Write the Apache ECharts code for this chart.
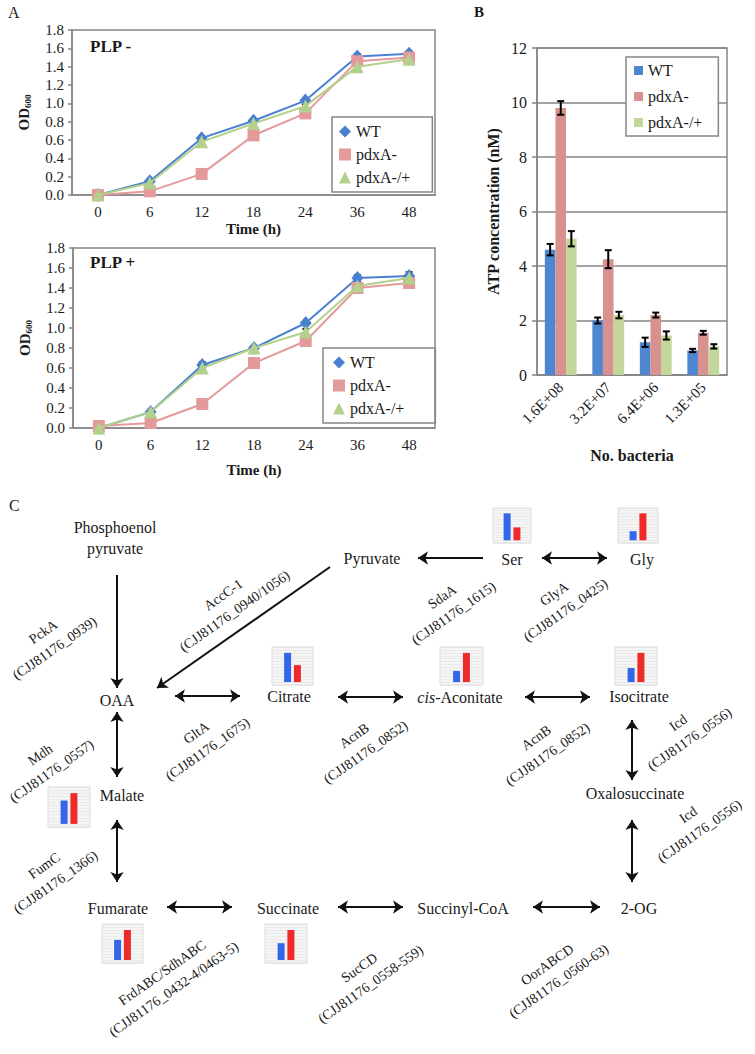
<!DOCTYPE html>
<html><head><meta charset="utf-8">
<script src="https://cdn.jsdelivr.net/npm/echarts@6/dist/echarts.min.js"></script>
<style>html,body{margin:0;padding:0;background:#fff}#c{width:755px;height:1054px}</style>
</head><body><div id="c"></div>
<script>
// ---------- Panel A data ----------
const timeLabels = ['0','6','12','18','24','36','48'];
const strainNames = ['WT','pdxA-','pdxA-/+'];
const plpMinusWT   = [0.00,0.15,0.62,0.81,1.03,1.51,1.54];
const plpMinusPdxA = [0.00,0.04,0.23,0.65,0.89,1.46,1.50];
const plpMinusComp = [0.00,0.13,0.58,0.78,0.97,1.40,1.48];
const plpMinusErrWT   = [0,0.01,0.02,0.02,0.02,0.03,0.03];
const plpMinusErrPdxA = [0,0.01,0.02,0.02,0.02,0.04,0.06];
const plpMinusErrComp = [0,0.01,0.02,0.02,0.02,0.02,0.05];
const plpPlusWT   = [0.00,0.16,0.63,0.80,1.05,1.50,1.52];
const plpPlusPdxA = [0.02,0.05,0.24,0.65,0.87,1.40,1.45];
const plpPlusComp = [0.00,0.16,0.60,0.80,0.96,1.42,1.50];
const plpPlusErrWT   = [0,0.01,0.03,0.02,0.02,0.03,0.04];
const plpPlusErrPdxA = [0,0.01,0.02,0.02,0.05,0.05,0.03];
const plpPlusErrComp = [0,0.01,0.02,0.02,0.03,0.03,0.03];
// ---------- Panel B data ----------
const bacteriaLabels = ['1.6E+08','3.2E+07','6.4E+06','1.3E+05'];
const atpWT   = [4.6,2.0,1.2,0.9];
const atpPdxA = [9.8,4.25,2.2,1.55];
const atpComp = [5.0,2.2,1.45,1.05];
const atpErrWT   = [0.21,0.11,0.17,0.06];
const atpErrPdxA = [0.25,0.33,0.09,0.07];
const atpErrComp = [0.28,0.12,0.15,0.08];
// ---------- Panel C data ----------
const metabolites = ['Phosphoenol\npyruvate','Pyruvate','Ser','Gly','OAA','Citrate','{i|cis}-Aconitate','Isocitrate','Malate','Oxalosuccinate','Fumarate','Succinate','Succinyl-CoA','2-OG'];
const enzymes = ['PckA','AccC-1','GltA','AcnB','AcnB','SdaA','GlyA','Icd','Icd','Mdh','FumC','FrdABC/SdhABC','SucCD','OorABCD'];
const geneIds = ['(CJJ81176_0939)','(CJJ81176_0940/1056)','(CJJ81176_1675)','(CJJ81176_0852)','(CJJ81176_0852)','(CJJ81176_1615)','(CJJ81176_0425)','(CJJ81176_0556)','(CJJ81176_0556)','(CJJ81176_0557)','(CJJ81176_1366)','(CJJ81176_0432-4/0463-5)','(CJJ81176_0558-559)','(CJJ81176_0560-63)'];
// reactions: [from, to, reversible]
const reactions = [
  ['Phosphoenol\npyruvate','OAA',false],['Pyruvate','OAA',false],['Ser','Pyruvate',false],
  ['Ser','Gly',true],['OAA','Citrate',true],['Citrate','cis-Aconitate',true],['cis-Aconitate','Isocitrate',true],
  ['OAA','Malate',true],['Malate','Fumarate',true],['Fumarate','Succinate',true],['Succinate','Succinyl-CoA',true],
  ['Succinyl-CoA','2-OG',true],['Isocitrate','Oxalosuccinate',true],['Oxalosuccinate','2-OG',true]
];
const miniMetabolites = ['Ser','Gly','Citrate','cis-Aconitate','Isocitrate','Malate','Fumarate','Succinate'];
const miniWT   = [1.00,0.34,1.00,0.38,0.48,0.76,0.67,0.56];
const miniPdxA = [0.48,1.00,0.58,1.00,1.00,1.00,1.00,1.00];

// ---------- layout (diagram coordinate space) ----------
const metaboliteLayout = [[115,538],[372,558],[512,559],[642,559],[117,700],[289,696],[460,697],[639,696],[122,795],[635,793],[118,908],[288,908],[463,908],[639,908]];
const reactionLayout = [
  [[117,575],[117,688]],[[330,567],[157,688]],[[483,558],[418,558]],
  [[542,558],[607,558]],[[175,696],[240,696]],[[338,697],[403,697]],[[525,697],[590,697]],
  [[117,712],[117,777]],[[117,820],[117,882]],[[167,907],[232,907]],[[338,907],[403,907]],
  [[533,907],[600,907]],[[632,720],[632,780]],[[632,820],[632,882]]
];
const enzymeLayout = [[49,640],[229,603],[202,741],[360,744],[542,746],[448,605],[560,602],[684,731],[694,823],[46,763],[50,874],[168,981],[365,976],[553,973]];
const miniLayout = [[493,508,38,35],[618,508,40,35],[272,647,41,38],[440,647,43,38],[615,647,42,38],[48,787,42,40],[102,924,41,39],[265,924,42,39]];

const FONT = 'Liberation Serif';
const AX = '#868686';
const L_COL = ['#4A80D0','#E4999B','#B3D08C'];
const B_COL = ['#4F86D0','#D9918F','#C3D79B'];
const TXT = '#1a1a1a';

const grids = [], xAxes = [], yAxes = [], series = [], legends = [];

function errorSeries(gi, vals, errs, offsetIdx, nBars, gap) {
  return {
    type:'custom', xAxisIndex:gi, yAxisIndex:gi, z:1, silent:true,
    data: vals.map((v,i)=>[i,v,errs[i]]),
    renderItem:(p,api)=>{
      const i=api.value(0), v=api.value(1), e=api.value(2);
      if(!e) return null;
      let dx = 0;
      if (nBars) { const band = api.size([1,0])[0]; const bw = band*(1-gap)/nBars; dx = (offsetIdx-(nBars-1)/2)*bw; }
      const t=api.coord([i,v+e]), b=api.coord([i,v-e]);
      const x=t[0]+dx, w=3.5;
      const st={stroke:'#000',lineWidth:nBars?2:1.5};
      return {type:'group',children:[
        {type:'line',shape:{x1:x,y1:t[1],x2:x,y2:b[1]},style:st},
        {type:'line',shape:{x1:x-w,y1:t[1],x2:x+w,y2:t[1]},style:st},
        {type:'line',shape:{x1:x-w,y1:b[1],x2:x+w,y2:b[1]},style:st}]};
    }
  };
}

function lineChart(gi, box, data, errs, nameGap, legendBox) {
  grids.push({left:box[0],top:box[1],width:box[2],height:box[3],show:true,borderColor:AX,borderWidth:1.5,backgroundColor:'transparent'});
  xAxes.push({gridIndex:gi,type:'category',data:timeLabels,boundaryGap:true,
    axisLine:{lineStyle:{color:AX,width:1.5}},axisTick:{length:5,lineStyle:{color:AX,width:1.5}},
    axisLabel:{fontFamily:FONT,fontSize:15,color:TXT,margin:9},
    name:'Time (h)',nameLocation:'middle',nameGap:nameGap,
    nameTextStyle:{fontFamily:FONT,fontSize:15,fontWeight:'bold',color:TXT}});
  yAxes.push({gridIndex:gi,type:'value',min:0,max:1.8,interval:0.2,
    axisLine:{show:true,lineStyle:{color:AX,width:1.5}},axisTick:{show:true,length:4,lineStyle:{color:AX,width:1.5}},
    splitLine:{show:false},
    axisLabel:{fontFamily:FONT,fontSize:15,color:TXT,margin:8,formatter:v=>v.toFixed(1)},
    name:'OD{s|600}',nameLocation:'middle',nameGap:40,nameRotate:90,
    nameTextStyle:{fontFamily:FONT,fontSize:15,fontWeight:'bold',color:TXT,
      rich:{s:{fontFamily:FONT,fontSize:9,fontWeight:'bold',color:TXT,verticalAlign:'bottom',padding:[7,0,0,0]}}}});
  const symbols = ['diamond','rect','triangle'];
  const sizes = [[12,14],12,13];
  for (let k=0;k<3;k++){
    series.push(errorSeries(gi, data[k], errs[k]));
    series.push({type:'line',name:strainNames[k],xAxisIndex:gi,yAxisIndex:gi,data:data[k],z:3+k,
      symbol:symbols[k],symbolSize:sizes[k],showAllSymbol:true,
      itemStyle:{color:L_COL[k],opacity:1},lineStyle:{color:L_COL[k],width:2}});
  }
  legends.push({orient:'vertical',left:legendBox[0],top:legendBox[1],selectedMode:false,
    padding:legendBox[2],itemGap:4,itemWidth:12,itemHeight:12,
    borderColor:AX,borderWidth:1.5,
    textStyle:{fontFamily:FONT,fontSize:16,color:TXT,lineHeight:19},
    data:strainNames.map((n,k)=>({name:n,icon:symbols[k],itemStyle:{color:L_COL[k]}}))});
}

lineChart(0,[72,30,363,165],[plpMinusWT,plpMinusPdxA,plpMinusComp],[plpMinusErrWT,plpMinusErrPdxA,plpMinusErrComp],26,[332,117,[5,22,5,7]]);
lineChart(1,[73,248,362,180],[plpPlusWT,plpPlusPdxA,plpPlusComp],[plpPlusErrWT,plpPlusErrPdxA,plpPlusErrComp],34,[323,348,[5,31,5,10]]);

// ---------- Panel B ----------
const GAP = 0.33;
grids.push({left:537,top:48,width:190,height:327,show:true,borderColor:AX,borderWidth:1.5,backgroundColor:'transparent'});
xAxes.push({gridIndex:2,type:'category',data:bacteriaLabels,
  axisLine:{lineStyle:{color:AX,width:1.5}},axisTick:{length:6,lineStyle:{color:AX,width:1.5}},
  axisLabel:{fontFamily:FONT,fontSize:15,color:TXT,rotate:45,margin:10},
  name:'No. bacteria',nameLocation:'middle',nameGap:72,
  nameTextStyle:{fontFamily:FONT,fontSize:16,fontWeight:'bold',color:TXT}});
yAxes.push({gridIndex:2,type:'value',min:0,max:12,interval:2,
  axisLine:{show:true,lineStyle:{color:AX,width:1.5}},axisTick:{show:true,length:5,lineStyle:{color:AX,width:1.5}},
  splitLine:{show:true,lineStyle:{color:AX,width:1.5}},
  axisLabel:{fontFamily:FONT,fontSize:16,color:TXT,margin:10},
  name:'ATP concentration (nM)',nameLocation:'middle',nameGap:36,
  nameTextStyle:{fontFamily:FONT,fontSize:16,fontWeight:'bold',color:TXT}});
[atpWT,atpPdxA,atpComp].forEach((d,k)=>{
  series.push({type:'bar',name:strainNames[k],xAxisIndex:2,yAxisIndex:2,data:d,barGap:'0%',barCategoryGap:(GAP*100)+'%',
    itemStyle:{color:B_COL[k]},z:2});
});
[atpErrWT,atpErrPdxA,atpErrComp].forEach((e,k)=>{
  const s = errorSeries(2,[atpWT,atpPdxA,atpComp][k],e,k,3,GAP); s.z=5; series.push(s);
});
legends.push({orient:'vertical',left:626,top:57,selectedMode:false,padding:[4,16,4,8],itemGap:7,itemWidth:9,itemHeight:9,
  borderColor:AX,borderWidth:1.5,backgroundColor:'#fff',
  textStyle:{fontFamily:FONT,fontSize:16,color:TXT,lineHeight:19},
  data:strainNames.map((n,k)=>({name:n,icon:'rect',itemStyle:{color:B_COL[k]}}))});

// ---------- Panel C (pathway) ----------
grids.push({left:0,top:0,width:755,height:1054,show:false});
xAxes.push({gridIndex:3,type:'value',min:0,max:755,show:false});
yAxes.push({gridIndex:3,type:'value',min:0,max:1054,inverse:true,show:false});
series.push({type:'lines',coordinateSystem:'cartesian2d',xAxisIndex:3,yAxisIndex:3,silent:true,
  symbol:['none','arrow'],symbolSize:10,lineStyle:{color:'#111',width:2,opacity:1,curveness:0},
  data:reactions.map((r,i)=>r[2]?null:{coords:reactionLayout[i]}).filter(Boolean)});
series.push({type:'lines',coordinateSystem:'cartesian2d',xAxisIndex:3,yAxisIndex:3,silent:true,
  symbol:['arrow','arrow'],symbolSize:10,lineStyle:{color:'#111',width:2,opacity:1,curveness:0},
  data:reactions.map((r,i)=>r[2]?{coords:reactionLayout[i]}:null).filter(Boolean)});
series.push({type:'custom',xAxisIndex:3,yAxisIndex:3,silent:true,z:4,
  data:metaboliteLayout.map((p,i)=>[p[0],p[1],i]),
  renderItem:(pa,api)=>{
    const c=api.coord([api.value(0),api.value(1)]);
    return {type:'text',x:c[0],y:c[1],style:{text:metabolites[api.value(2)],align:'center',verticalAlign:'middle',
      fontFamily:FONT,fontSize:16,fill:TXT,lineHeight:21,rich:{i:{fontFamily:FONT,fontSize:16,fontStyle:'italic',fill:TXT}}}};
  }});
series.push({type:'custom',xAxisIndex:3,yAxisIndex:3,silent:true,z:4,
  data:enzymeLayout.map((p,i)=>[p[0],p[1],i]),
  renderItem:(pa,api)=>{
    const c=api.coord([api.value(0),api.value(1)]); const i=api.value(2);
    return {type:'text',x:c[0],y:c[1],rotation:35*Math.PI/180,style:{text:enzymes[i]+'\n'+geneIds[i],align:'center',verticalAlign:'middle',
      fontFamily:FONT,fontSize:14,fill:TXT,lineHeight:20}};
  }});

// mini bar charts
miniMetabolites.forEach((m,k)=>{
  const gi = 4+k, L = miniLayout[k];
  grids.push({left:L[0],top:L[1],width:L[2],height:L[3],show:true,backgroundColor:'#f5f5f5',borderColor:'#dcdcdc',borderWidth:1});
  xAxes.push({gridIndex:gi,type:'category',data:[m],show:false});
  yAxes.push({gridIndex:gi,type:'value',min:-0.1,max:1.2,interval:0.1,axisLabel:{show:false},axisTick:{show:false},axisLine:{show:false},
    splitLine:{show:true,lineStyle:{color:'#e2e2e2',width:0.6}}});
  series.push({type:'bar',xAxisIndex:gi,yAxisIndex:gi,data:[miniWT[k]],barWidth:7,barGap:'40%',itemStyle:{color:'#3366E8'},silent:true});
  series.push({type:'bar',xAxisIndex:gi,yAxisIndex:gi,data:[miniPdxA[k]],barWidth:7,barGap:'40%',itemStyle:{color:'#EE2A2A'},silent:true});
});

const titleStyle = (size,bold)=>({fontFamily:FONT,fontSize:size,fontWeight:bold?'bold':'normal',color:TXT});
const option = {
  animation:false, backgroundColor:'#fff',
  title:[
    {text:'A',left:8,top:4,padding:0,textStyle:titleStyle(16,false)},
    {text:'B',left:474,top:4,padding:0,textStyle:titleStyle(15,true)},
    {text:'C',left:9,top:497,padding:0,textStyle:titleStyle(16,false)},
    {text:'PLP -',left:90,top:38,padding:0,textStyle:titleStyle(17,true)},
    {text:'PLP +',left:90,top:254,padding:0,textStyle:titleStyle(17,true)}
  ],
  grid:grids, xAxis:xAxes, yAxis:yAxes, legend:legends, series:series
};
const chart = echarts.init(document.getElementById('c'), null, {renderer:'svg'});
chart.setOption(option);
</script></body></html>
